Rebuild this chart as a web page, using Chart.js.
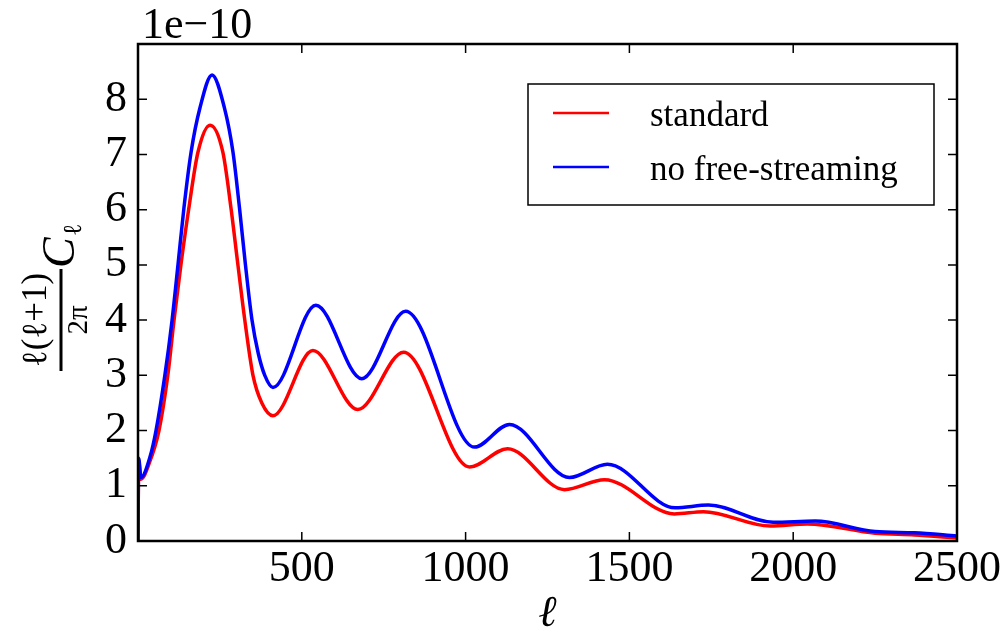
<!DOCTYPE html>
<html>
<head>
<meta charset="utf-8">
<script src="https://cdn.jsdelivr.net/npm/chart.js@4"></script>
<style>
html, body { margin: 0; padding: 0; background: #fff; }
canvas { display: block; }
</style>
</head>
<body>
<canvas id="clChart" width="1008" height="632"></canvas>
<script>
// multipole ell and l(l+1)C_l/2pi (units of 1e-10)
const ellStandard = [0, 2, 9, 35, 64, 91, 110, 131, 155, 183, 220, 259, 284, 305, 326, 351, 378, 412, 534, 671, 811, 1012, 1128, 1302, 1424, 1637, 1726, 1930, 2043, 2250, 2370, 2500];
const clStandard = [0, 1.45, 1.12, 1.42, 2.0, 3.0, 4.0, 5.0, 6.02, 7.04, 7.53, 7.04, 6.02, 5.0, 4.0, 3.0, 2.5, 2.27, 3.45, 2.38, 3.42, 1.34, 1.67, 0.93, 1.11, 0.49, 0.53, 0.27, 0.31, 0.14, 0.11, 0.055];

const ellNoFs = [0, 2, 9, 37, 55, 82, 104, 122, 140, 162, 189, 226, 264, 290, 310, 328, 348, 367, 387, 412, 543, 683, 817, 1027, 1134, 1317, 1433, 1640, 1741, 1939, 2067, 2250, 2370, 2500];
const clNoFs = [0, 1.5, 1.15, 1.53, 2.0, 3.0, 4.0, 5.0, 6.02, 7.04, 7.84, 8.44, 7.84, 7.04, 6.02, 5.0, 4.0, 3.4, 3.0, 2.78, 4.27, 2.94, 4.16, 1.7, 2.11, 1.15, 1.39, 0.6, 0.65, 0.34, 0.36, 0.17, 0.15, 0.09];

const xTicks = [500, 1000, 1500, 2000, 2500];
const yTicks = [0, 1, 2, 3, 4, 5, 6, 7, 8];

const serif = '"Liberation Serif", "DejaVu Serif", serif';

function toPoints(xs, ys) {
    return xs.map((x, i) => ({ x: x, y: ys[i] }));
}

const framePlugin = {
    id: 'frame',
    afterDraw(chart) {
        const { ctx, chartArea: a, scales } = chart;
        const xs = scales.x, ys = scales.y;
        ctx.save();
        ctx.strokeStyle = '#000';
        ctx.fillStyle = '#000';

        // inward ticks on all four sides
        ctx.lineWidth = 1.5;
        ctx.beginPath();
        xs.ticks.forEach(t => {
            const px = xs.getPixelForValue(t.value);
            ctx.moveTo(px, a.bottom); ctx.lineTo(px, a.bottom - 9);
            ctx.moveTo(px, a.top); ctx.lineTo(px, a.top + 9);
        });
        ys.ticks.forEach(t => {
            const py = ys.getPixelForValue(t.value);
            ctx.moveTo(a.left, py); ctx.lineTo(a.left + 9, py);
            ctx.moveTo(a.right, py); ctx.lineTo(a.right - 9, py);
        });
        ctx.stroke();

        ctx.lineWidth = 2.5;
        ctx.strokeRect(a.left, a.top, a.right - a.left, a.bottom - a.top);

        // offset text
        ctx.font = '44px ' + serif;
        ctx.textAlign = 'left';
        ctx.textBaseline = 'alphabetic';
        ctx.fillText('1e\u221210', a.left + 4, a.top - 6);

        // y label: l(l+1)/2pi C_l, rotated
        ctx.save();
        ctx.translate(61, 320);
        ctx.rotate(-Math.PI / 2);
        ctx.lineWidth = 3;
        ctx.beginPath();
        ctx.moveTo(-51, 0); ctx.lineTo(51, 0);
        ctx.stroke();
        ctx.textAlign = 'center';
        ctx.font = '35px ' + serif;
        ctx.fillText('\u2113(\u2113+1)', 0, -15);
        ctx.font = '29px ' + serif;
        ctx.fillText('2\u03c0', 0, 26);
        ctx.textAlign = 'left';
        ctx.font = 'italic 46px ' + serif;
        ctx.fillText('C', 52, 13);
        ctx.font = '26px ' + serif;
        ctx.fillText('\u2113', 84, 20);
        ctx.restore();

        // legend box
        const bx = a.right - 429, by = a.top + 40, bw = 406, bh = 121;
        ctx.fillStyle = '#fff';
        ctx.fillRect(bx, by, bw, bh);
        ctx.lineWidth = 1.5;
        ctx.strokeRect(bx, by, bw, bh);
        ctx.font = '35px ' + serif;
        ctx.textAlign = 'left';
        ctx.textBaseline = 'alphabetic';
        chart.data.datasets.forEach((ds, i) => {
            const ly = by + 29 + i * 54;
            ctx.strokeStyle = ds.borderColor;
            ctx.lineWidth = 2.5;
            ctx.beginPath();
            ctx.moveTo(bx + 25, ly); ctx.lineTo(bx + 81, ly);
            ctx.stroke();
            ctx.fillStyle = '#000';
            ctx.fillText(ds.label, bx + 122, ly + 13);
        });
        ctx.restore();
    }
};

const chart = new Chart(document.getElementById('clChart').getContext('2d'), {
    type: 'line',
    data: {
        datasets: [
            {
                label: 'standard',
                data: toPoints(ellStandard, clStandard),
                borderColor: '#ff0000',
                borderWidth: 3.5,
                pointRadius: 0,
                cubicInterpolationMode: 'monotone',
                fill: false,
                order: 1
            },
            {
                label: 'no free-streaming',
                data: toPoints(ellNoFs, clNoFs),
                borderColor: '#0000ff',
                borderWidth: 3.5,
                pointRadius: 0,
                cubicInterpolationMode: 'monotone',
                fill: false,
                order: 0
            }
        ]
    },
    options: {
        responsive: false,
        animation: false,
        devicePixelRatio: 1,
        layout: { padding: { top: 44, right: 51, left: 0, bottom: 0 } },
        plugins: {
            legend: { display: false },
            tooltip: { enabled: false }
        },
        scales: {
            x: {
                type: 'linear',
                min: 0,
                max: 2500,
                grid: { display: false, drawTicks: false },
                border: { display: false },
                afterBuildTicks: scale => { scale.ticks = xTicks.map(v => ({ value: v })); },
                afterFit: scale => { scale.height = 91; },
                ticks: {
                    color: '#000',
                    font: { family: serif, size: 44 },
                    padding: 2,
                    maxRotation: 0,
                    autoSkip: false,
                    callback: v => String(v)
                },
                title: {
                    display: true,
                    text: '\u2113',
                    color: '#000',
                    font: { family: serif, size: 44, style: 'italic', lineHeight: 0.8 },
                    padding: { top: 0, bottom: 0 }
                }
            },
            y: {
                min: 0,
                max: 9,
                grid: { display: false, drawTicks: false },
                border: { display: false },
                afterBuildTicks: scale => { scale.ticks = yTicks.map(v => ({ value: v })); },
                afterFit: scale => { scale.width = 138; },
                ticks: {
                    color: '#000',
                    font: { family: serif, size: 44 },
                    padding: 11,
                    callback: v => String(v)
                }
            }
        }
    },
    plugins: [framePlugin]
});
</script>
</body>
</html>
